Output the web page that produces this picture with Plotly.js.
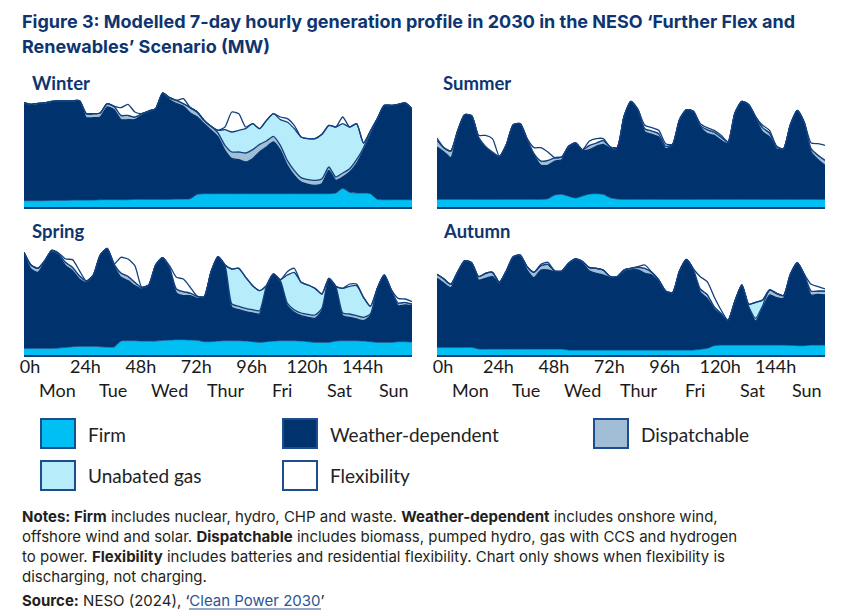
<!DOCTYPE html>
<html><head><meta charset="utf-8">
<script src="https://cdn.plot.ly/plotly-3.0.1.min.js"></script>
<style>html,body{margin:0;padding:0;background:#fff;} #chart{width:850px;height:615px;}</style>
</head><body><div id="chart"></div>
<script>
// Hour of the modelled week (3-hourly readings)
const hours = [0,3,6,9,12,15,18,21,24,27,30,33,36,39,42,45,48,51,54,57,60,63,66,69,72,75,78,81,84,87,90,93,96,99,102,105,108,111,114,117,120,123,126,129,132,135,138,141,144,147,150,153,156,159,162,165,168];

// ---- Winter (MW) ----
const winterFirm = [3800,3800,3800,3800,4000,4000,4000,4200,4200,4200,4200,4400,4400,4400,4400,4400,4600,4600,4600,4600,4600,4600,4800,4800,5000,7600,8000,8000,8000,8000,8000,8000,8000,8000,8000,8000,8000,8000,8000,8000,8000,8000,8000,8000,8000,8400,11200,8800,8400,8400,8000,4600,4400,4400,4400,4400,4400];
const winterWeather = [58200,57000,57600,57800,58600,59000,59000,58800,59000,49400,49400,49600,55600,54000,48000,48000,47800,50400,52400,53800,63000,59800,57200,55600,51400,46400,42000,38000,34000,26000,21000,20400,19000,21000,25000,28000,31000,26000,17000,11000,7000,5600,5000,6000,14000,7600,6800,12200,17600,25600,35000,47400,56000,56000,56800,57600,54000];
const winterDispatchable = [600,800,800,800,800,600,600,800,600,2400,2400,2400,2000,2000,2600,2600,1600,1000,600,600,800,1200,2000,1600,3200,3000,2000,2400,2400,3000,4000,4600,5400,5400,4600,3600,3400,3000,3000,3000,2600,2800,3000,3000,2000,2000,2400,2000,2400,1600,2000,1000,600,600,400,400,600];
const winterGas = [0,0,0,0,0,0,0,0,0,0,0,0,0,0,0,0,0,0,0,0,0,0,0,0,0,0,0,0,1600,9400,12000,13000,14600,15600,9400,12400,13600,15400,23000,25000,24400,24600,25000,26600,25000,30000,29600,25000,21600,2800,600,0,0,0,0,0,0];
const winterFlex = [0,0,0,0,0,0,0,0,0,0,0,0,0,0,4600,6600,3000,0,0,0,0,0,0,3000,0,0,0,0,0,1600,12000,10000,1000,0,0,0,0,1600,2000,2000,0,0,0,0,0,0,4000,0,0,0,0,0,0,0,0,0,0];

// ---- Summer (MW) ----
const summerFirm = [4600,4600,4600,4600,4600,4600,4600,4600,4600,4600,4600,4600,4600,4600,4600,4600,5000,7200,7600,6400,5400,6600,7800,8000,7600,5600,4800,4600,4600,4600,4600,4600,4600,4600,4600,4600,4600,4600,4600,4600,4600,4600,4600,4600,4600,4600,4600,4600,4600,4600,4600,4600,4600,4600,4600,4600,4600];
const summerWeather = [31400,28400,25000,40400,50400,49800,36400,31000,27800,25000,32400,44400,45000,35400,26400,20400,20000,20400,20800,29200,32600,27400,26600,28400,30000,29400,30200,49400,58400,53400,40400,39000,37400,30400,32400,47400,53400,52400,43400,39400,38400,35400,33400,51400,58400,56400,48400,40400,37400,30400,29800,44400,53000,45800,28400,23800,20400];
const summerDispatchable = [4000,2600,4000,1000,400,400,1000,800,600,800,400,400,400,1000,1000,2600,3000,2000,1600,800,400,400,2600,2000,2400,1000,600,400,400,400,2000,2000,2000,1400,600,400,400,400,1000,2400,2000,2000,1000,400,400,400,1000,2600,2400,1400,400,400,400,400,2000,2600,3000];
const summerGas = [0,0,0,0,0,0,0,0,0,0,0,0,0,0,0,0,0,0,0,0,0,0,0,0,0,0,0,0,0,0,0,0,0,0,0,0,0,0,0,0,0,0,0,0,0,0,0,0,0,0,0,0,0,0,0,0,0];
const summerFlex = [1400,0,0,0,0,0,1000,6600,8000,0,0,0,0,0,3600,8000,5000,0,0,0,0,0,2600,2600,1000,0,0,0,0,0,2000,2000,2000,1600,0,0,0,0,1000,1200,1000,1000,0,0,0,0,0,1400,1600,0,0,0,0,0,3400,7000,9000];

// ---- Spring (MW) ----
const springFirm = [4000,4000,4000,4000,4000,4200,4600,5000,5200,5200,5200,5000,4800,4800,8400,8600,8600,8400,8400,8400,8800,9000,9200,9200,9000,8800,8000,8000,8400,8600,8600,8600,8400,8000,7600,8000,8400,8600,8600,8600,8400,8000,7600,7600,7600,8400,8600,8600,8600,8400,8000,7600,7600,7600,8000,8000,7800];
const springWeather = [56600,47600,45600,51600,58000,55400,49000,45600,40400,38400,42400,54600,58800,48800,38200,36000,33000,31200,33200,45200,49200,42600,28000,26400,26600,25200,26600,41600,50200,45000,20000,18600,17600,17200,17000,32600,39600,35000,21000,17000,15200,14600,14400,19000,38000,32200,15000,14000,13000,12200,15600,32000,40000,31000,21600,22000,21800];
const springDispatchable = [1000,2400,2400,1000,800,1000,2000,2000,2000,800,400,400,400,1000,2600,2600,2000,1000,400,400,400,1000,2400,2400,1600,1200,400,400,400,400,2000,2000,2000,2000,2000,1000,600,1000,1600,1600,1600,1800,2000,1400,400,600,1600,2000,2000,2000,1000,400,400,600,1600,1600,1000];
const springGas = [0,0,0,0,0,0,0,0,0,0,0,0,0,0,0,0,0,0,0,0,0,0,0,0,0,0,0,0,0,0,21000,22800,18600,14400,12000,0,0,600,16800,22400,18400,17600,16000,8600,0,0,14800,16600,18000,12000,4600,0,0,0,0,0,0];
const springFlex = [0,0,0,0,0,600,2000,4600,3000,0,0,0,0,0,9400,10400,10000,0,0,0,0,1000,7000,7600,3400,0,0,0,0,0,0,0,0,0,0,0,0,0,2000,2400,0,0,0,0,0,0,0,1400,1000,0,0,0,0,0,2800,2000,1400];

// ---- Autumn (MW) ----
const autumnFirm = [4600,4600,4600,4600,4600,4600,3600,3600,3600,3600,3600,3600,3600,3600,3600,3600,3600,3600,3600,3000,3000,3000,3000,3000,3000,3000,3000,3000,3000,3000,3000,3000,3000,3000,3000,3000,3000,3000,3400,4000,5600,6000,6000,6000,6000,6000,6000,6000,6000,6000,6000,5800,5600,5600,6000,6000,6000];
const autumnWeather = [41400,38400,35800,44400,51400,50400,41400,42400,43400,39400,46400,54800,55400,47400,42800,47400,47400,46400,46400,51400,54000,52000,47400,46000,45000,43400,43400,47000,48000,48000,46000,45000,41000,35000,34000,47000,54000,48000,34200,30000,22000,18000,14400,26000,35600,22000,14400,22000,30000,28400,28000,42200,49400,42400,30000,30400,30000];
const autumnDispatchable = [2400,2600,2000,1000,600,400,2000,3000,2600,600,400,600,1000,2000,3200,2600,3400,400,400,600,600,1000,2000,3000,3000,600,600,1000,1000,1600,3000,1600,1000,400,400,400,400,400,2000,2400,1400,1000,400,400,400,1000,1600,1600,3000,2600,1600,400,400,400,2400,2000,2400];
const autumnGas = [0,0,0,0,0,0,0,0,0,0,0,0,0,0,0,0,0,0,0,0,0,0,0,0,0,0,0,0,0,0,0,0,0,0,0,0,0,0,0,0,0,0,0,0,0,1400,9600,3400,0,0,0,0,0,0,0,0,0];
const autumnFlex = [0,0,0,0,0,0,0,0,0,0,0,0,0,0,0,800,1200,0,0,0,0,0,0,0,0,0,0,0,0,400,2000,0,0,0,0,0,0,200,7400,7600,6000,2000,0,0,0,0,0,0,0,0,0,0,0,0,4000,2600,1200];

// Labels
const seriesNames = ['Firm','Weather-dependent','Dispatchable','Unabated gas','Flexibility'];
const panelNames = ['Winter','Summer','Spring','Autumn'];
const tickHours = [0,24,48,72,96,120,144];
const tickLabels = ['0h','24h','48h','72h','96h','120h','144h'];
const dayLabels = ['Mon','Tue','Wed','Thur','Fri','Sat','Sun'];

// ---- styling ----
const FONT = 'Lato, "Open Sans", sans-serif';
const FONT2 = 'Inter, Lato, sans-serif';
const NAVY = '#0e356f';
const OUT = '#12407f';
const fills = ['#00bff2','#00336e','#a1bed6','#b7ecfb','#ffffff'];
const W = 850, H = 615;
const px = v => v / W, py = v => 1 - v / H;

const panels = [
  {name: panelNames[0], data: [winterFirm, winterWeather, winterDispatchable, winterGas, winterFlex], xa: 'x', ya: 'y'},
  {name: panelNames[1], data: [summerFirm, summerWeather, summerDispatchable, summerGas, summerFlex], xa: 'x2', ya: 'y2'},
  {name: panelNames[2], data: [springFirm, springWeather, springDispatchable, springGas, springFlex], xa: 'x3', ya: 'y3'},
  {name: panelNames[3], data: [autumnFirm, autumnWeather, autumnDispatchable, autumnGas, autumnFlex], xa: 'x4', ya: 'y4'}
];

const traces = [];
panels.forEach((p, pi) => {
  p.data.forEach((vals, si) => {
    traces.push({
      type: 'scatter', mode: 'lines', x: hours, y: vals,
      xaxis: p.xa, yaxis: p.ya, stackgroup: 'g' + pi,
      name: seriesNames[si], showlegend: false, hoverinfo: 'skip',
      fillcolor: fills[si],
      line: {color: si === 1 ? fills[1] : OUT, width: si === 0 ? 0.8 : 1.3, shape: 'spline', smoothing: 0.6}
    });
  });
});

const leftDom = [px(24), px(412)], rightDom = [px(437), px(825)];
const topDom = [py(207), py(87)], botDom = [py(355), py(235)];
const yBase = {range: [0, 72000], showgrid: false, zeroline: false, showticklabels: false, ticks: '', fixedrange: true};
const xBase = {range: [0, 168], showgrid: false, zeroline: false, showline: true, linecolor: OUT, linewidth: 2,
  ticks: '', tickvals: tickHours, ticktext: tickLabels, fixedrange: true,
  tickfont: {family: FONT, size: 18, color: '#1a1a1a'}, ticklabelshift: 6, ticklabelstandoff: -6};

const layout = {
  width: W, height: H, autosize: false,
  margin: {l: 0, r: 0, t: 0, b: 0, pad: 0},
  paper_bgcolor: '#ffffff', plot_bgcolor: 'rgba(0,0,0,0)',
  showlegend: false,
  xaxis: Object.assign({}, xBase, {domain: leftDom, anchor: 'y', showticklabels: false}),
  xaxis2: Object.assign({}, xBase, {domain: rightDom, anchor: 'y2', showticklabels: false}),
  xaxis3: Object.assign({}, xBase, {domain: leftDom, anchor: 'y3', showticklabels: true}),
  xaxis4: Object.assign({}, xBase, {domain: rightDom, anchor: 'y4', showticklabels: true}),
  yaxis: Object.assign({}, yBase, {domain: topDom, anchor: 'x'}),
  yaxis2: Object.assign({}, yBase, {domain: topDom, anchor: 'x2'}),
  yaxis3: Object.assign({}, yBase, {domain: botDom, anchor: 'x3'}),
  yaxis4: Object.assign({}, yBase, {domain: botDom, anchor: 'x4'}),
  annotations: [], shapes: []
};

const A = layout.annotations, S = layout.shapes;
function txt(t, x, y, size, color, fam) {
  A.push({text: t, xref: 'paper', yref: 'paper', x: px(x), y: py(y), xanchor: 'left', yanchor: 'middle',
    showarrow: false, font: {family: fam || FONT, size: size, color: color}, borderpad: 0});
}

// Title
txt('<b>Figure 3: Modelled 7-day hourly generation profile in 2030 in the NESO ‘Further Flex and</b>', 21, 22, 18, NAVY, FONT2);
txt('<b>Renewables’ Scenario (MW)</b>', 21, 46, 18, NAVY, FONT2);

// Panel titles
txt('<b>' + panelNames[0] + '</b>', 31, 83, 18.5, NAVY);
txt('<b>' + panelNames[1] + '</b>', 442, 83, 18.5, NAVY);
txt('<b>' + panelNames[2] + '</b>', 31, 231, 18.5, NAVY);
txt('<b>' + panelNames[3] + '</b>', 442, 231, 18.5, NAVY);

// Day labels under the bottom panels
const dayPos = [14.3, 38.5, 62.8, 87.5, 111.7, 136.4, 160.2];
['x3', 'x4'].forEach(xr => {
  dayLabels.forEach((d, i) => {
    A.push({text: d, xref: xr, yref: 'paper', x: dayPos[i], y: py(390), xanchor: 'center', yanchor: 'middle',
      showarrow: false, font: {family: FONT, size: 18, color: '#1a1a1a'}, borderpad: 0});
  });
});

// Legend (boxes + labels)
const legendItems = [
  {i: 0, x0: 41, y0: 419, tx: 87},
  {i: 1, x0: 283, y0: 419, tx: 329},
  {i: 2, x0: 594, y0: 419, tx: 640},
  {i: 3, x0: 41, y0: 461, tx: 87},
  {i: 4, x0: 283, y0: 461, tx: 329}
];
legendItems.forEach(it => {
  S.push({type: 'rect', xref: 'paper', yref: 'paper', x0: px(it.x0), x1: px(it.x0 + 34), y0: py(it.y0), y1: py(it.y0 + 29),
    fillcolor: fills[it.i], line: {color: '#1c4d8c', width: 2}});
  txt(seriesNames[it.i], it.tx, it.y0 + 15, 19, '#222222');
});

// Notes
const NC = '#231f20';
txt('<b>Notes: Firm</b> includes nuclear, hydro, CHP and waste. <b>Weather-dependent</b> includes onshore wind,', 21, 516, 15, NC, FONT2);
txt('offshore wind and solar. <b>Dispatchable</b> includes biomass, pumped hydro, gas with CCS and hydrogen', 21, 536, 15, NC, FONT2);
txt('to power. <b>Flexibility</b> includes batteries and residential flexibility. Chart only shows when flexibility is', 21, 556, 15, NC, FONT2);
txt('discharging, not charging.', 21, 576, 15, NC, FONT2);
txt('<b>Source:</b> NESO (2024), ‘<span style="color:#2b5592">Clean Power 2030</span>’', 21, 600, 15, NC, FONT2);
S.push({type: 'line', xref: 'paper', yref: 'paper', x0: px(189), x1: px(321), y0: py(609), y1: py(609), line: {color: '#2b5592', width: 1}});

Plotly.newPlot('chart', traces, layout, {displayModeBar: false, staticPlot: true});
</script></body></html>
